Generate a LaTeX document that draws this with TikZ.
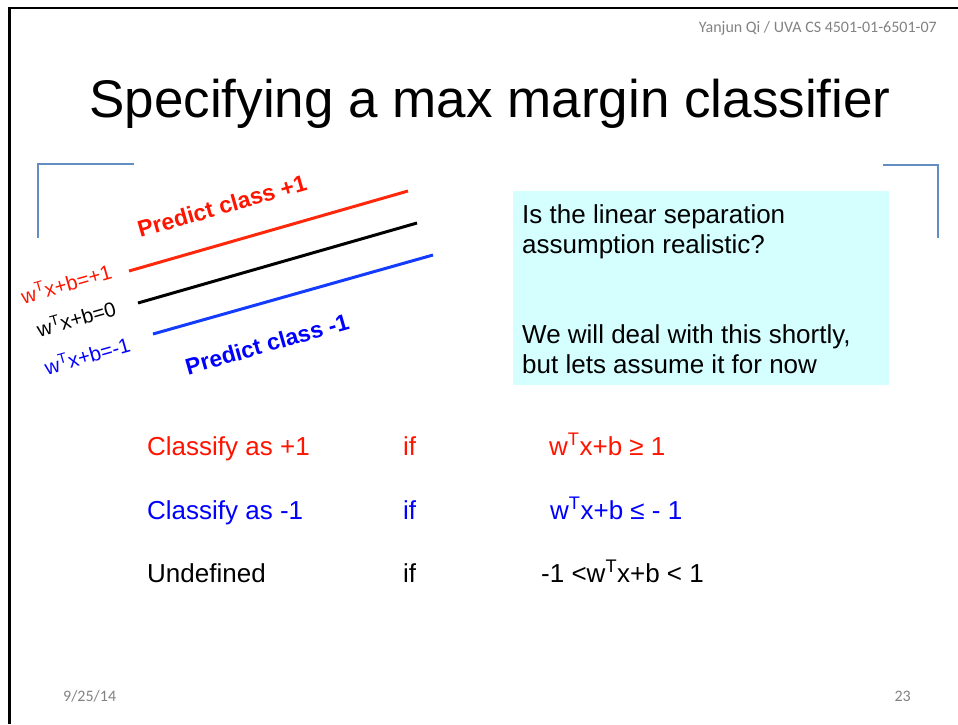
\documentclass[tikz,border=0pt]{standalone}
\usepackage{fontspec}
\setmainfont{Liberation Sans}
\newfontfamily\hdrfont{Carlito}
\usetikzlibrary{positioning}

\definecolor{bracketblue}{RGB}{98,142,196}
\definecolor{notecyan}{RGB}{213,255,255}
\definecolor{plusred}{RGB}{255,20,0}
\definecolor{minusblue}{RGB}{0,0,255}
\definecolor{linered}{RGB}{255,40,10}
\definecolor{lineblue}{RGB}{20,60,255}
\definecolor{hdrgray}{RGB}{130,130,130}

\tikzset{
  body/.style={font=\fontsize{26}{30}\selectfont, inner sep=0pt, anchor=base west},
  eqlabel/.style={font=\fontsize{20.5}{22}\selectfont, inner sep=0pt, rotate=16},
  predict/.style={font=\fontsize{23}{26}\selectfont\bfseries, inner sep=0pt, rotate=16},
  smallgray/.style={font=\hdrfont\fontsize{16}{18}\selectfont, text=hdrgray, inner sep=0pt},
  bracket/.style={bracketblue, line width=2pt},
  margin/.style={line width=3pt}
}
\newcommand{\wTx}{w\textsuperscript{T}x+b}

\begin{document}
\begin{tikzpicture}[x=1pt, y=-1pt]
    \useasboundingbox (0,0) rectangle (958,724);
    % slide frame and header
    \draw[line width=2.5pt] (9.5,724) -- (9.5,8) -- (958,8);
    \node[smallgray, anchor=base east] (hdr) at (937,32) {Yanjun Qi / UVA CS 4501-01-6501-07};
    \node[font=\fontsize{53}{60}\selectfont, inner sep=0pt, anchor=base] (title) at (490,117)
          {Specifying a max margin classifier};
    \draw[bracket] (134,164) -- (38,164) -- (38,238);
    \draw[bracket] (883,165) -- (938,165) -- (938,238);

    % margin lines
    \coordinate (r1) at (129,271); \coordinate (r2) at (408,191);
    \coordinate (k1) at (138,303); \coordinate (k2) at (417,223);
    \coordinate (b1) at (153,334); \coordinate (b2) at (433,255);
    \draw[margin, linered]  (r1) -- (r2);
    \draw[margin, black]    (k1) -- (k2);
    \draw[margin, lineblue] (b1) -- (b2);
    \node[predict, text=plusred]   (pplus)  at (222,206) {Predict class +1};
    \node[predict, text=minusblue] (pminus) at (267,344) {Predict class -1};
    \node[eqlabel, text=plusred]   (eplus)  at (66,283)  {\wTx=+1};
    \node[eqlabel]                 (ezero)  at (76,318)  {\wTx=0};
    \node[eqlabel, text=minusblue] (eminus) at (87,355)  {\wTx=-1};

    % note box
    \fill[notecyan] (513,191) rectangle (889,385);
    \node[body] (q1) at (522,223) {Is the linear separation};
    \node[body] (q2) at (522,253) {assumption realistic?};
    \node[body] (q3) at (522,343) {We will deal with this shortly,};
    \node[body] (q4) at (522,373) {but lets assume it for now};

    % decision rules
    \node[body, text=plusred]   (c1) at (147,455) {Classify as +1};
    \node[body, text=plusred]   (i1) at (403,455) {if};
    \node[body, text=plusred]   (w1) at (549,455) {\wTx\ ≥ 1};
    \node[body, text=minusblue] (c2) at (147,519) {Classify as -1};
    \node[body, text=minusblue] (i2) at (403,519) {if};
    \node[body, text=minusblue] (w2) at (550,519) {\wTx\ ≤ - 1};
    \node[body]                 (c3) at (147,582) {Undefined};
    \node[body]                 (i3) at (403,582) {if};
    \node[body]                 (w3) at (541,582) {-1 <\wTx\ < 1};

    % footer
    \node[smallgray, anchor=base west] (date) at (63,701) {9/25/14};
    \node[smallgray, anchor=base east] (page) at (911,701) {23};
\end{tikzpicture}
\end{document}
